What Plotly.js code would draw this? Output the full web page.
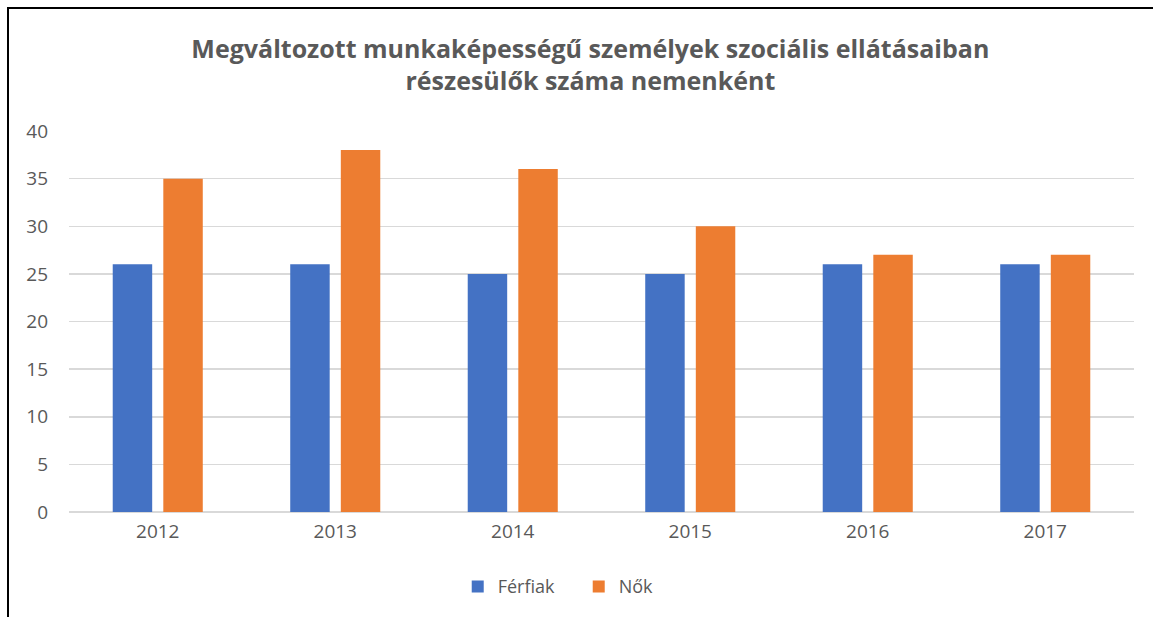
<!DOCTYPE html>
<html>
<head>
<meta charset="utf-8">
<script src="https://cdn.plot.ly/plotly-3.0.1.min.js"></script>
<style>
  html, body { margin: 0; padding: 0; background: #fff; }
  #wrap { position: relative; width: 1153px; height: 617px; overflow: hidden; }
  #chart { position: absolute; left: 0; top: 0; width: 1153px; height: 617px; }
  #frame { position: absolute; left: 7px; top: 7px; width: 1160px; height: 700px;
           border-left: 2px solid #000; border-top: 2px solid #000; pointer-events: none; }
</style>
</head>
<body>
<div id="wrap">
  <div id="chart"></div>
  <div id="frame"></div>
</div>
<script>
const years = ['2012', '2013', '2014', '2015', '2016', '2017'];
const ferfiak = [26, 26, 25, 25, 26, 26];
const nok = [35, 38, 36, 30, 27, 27];
const seriesNames = ['Férfiak', 'Nők'];
const yTicks = [0, 5, 10, 15, 20, 25, 30, 35, 40];

const FONT = '"Open Sans", "Segoe UI", sans-serif';

const data = [
  { type: 'bar', name: seriesNames[0], x: years, y: ferfiak,
    marker: { color: '#4472C4' }, hoverinfo: 'none' },
  { type: 'bar', name: seriesNames[1], x: years, y: nok,
    marker: { color: '#ED7D31' }, hoverinfo: 'none' }
];

const layout = {
  width: 1153, height: 617,
  margin: { l: 69, r: 19, t: 131, b: 105, autoexpand: false },
  paper_bgcolor: '#fff', plot_bgcolor: '#fff',
  barmode: 'group', bargap: 0.43, bargroupgap: 0.22,
  title: {
    text: '<b>Megváltozott munkaképességű személyek szociális ellátásaiban<br>részesülők száma nemenként</b>',
    font: { family: FONT, size: 25, color: '#595959' },
    x: 0.512, xanchor: 'center', yref: 'container', y: 0.906, yanchor: 'top'
  },
  xaxis: {
    type: 'category', range: [-0.5, 5.5],
    showgrid: false, showline: false, zeroline: false, ticks: '',
    tickfont: { family: FONT, size: 19, color: '#595959' },
    ticklabelstandoff: 6
  },
  yaxis: {
    range: [0, 40], tickvals: yTicks,
    showgrid: true, gridcolor: '#d9d9d9', gridwidth: 1.5,
    zeroline: true, zerolinecolor: '#d9d9d9', zerolinewidth: 1.5,
    showline: false, ticks: '',
    tickfont: { family: FONT, size: 19, color: '#595959' },
    ticklabelstandoff: 20
  },
  showlegend: true,
  legend: {
    orientation: 'h', x: 0.365, xanchor: 'left',
    yref: 'container', y: 0.049, yanchor: 'middle',
    font: { family: FONT, size: 18, color: '#595959' },
    itemwidth: 30, entrywidth: 76, entrywidthmode: 'pixels', traceorder: 'normal'
  }
};

Plotly.newPlot('chart', data, layout, { displayModeBar: false, staticPlot: true });
</script>
</body>
</html>
